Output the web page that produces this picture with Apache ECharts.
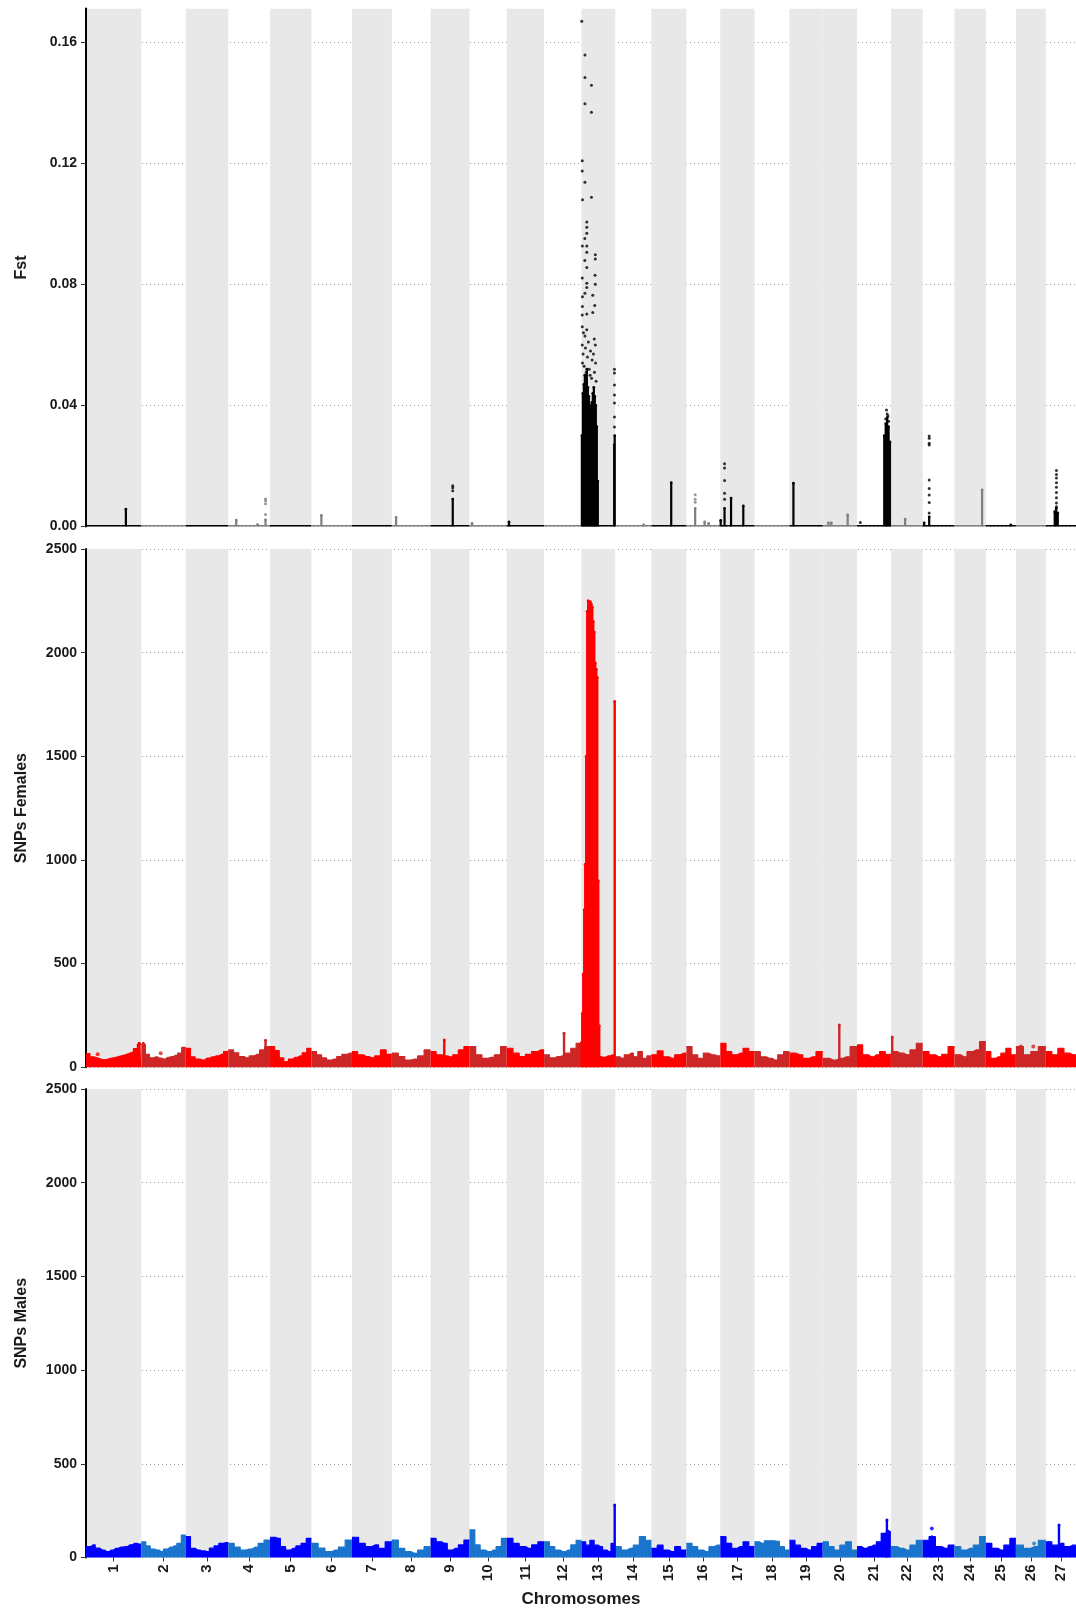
<!DOCTYPE html>
<html>
<head>
<meta charset="utf-8">
<script src="https://cdn.jsdelivr.net/npm/echarts@6/dist/echarts.min.js"></script>
<style>
html, body { margin: 0; padding: 0; background: #ffffff; }
#chart { width: 1076px; height: 1613px; }
</style>
</head>
<body>
<div id="chart"></div>
<script>
// Chromosome layout (lengths in Mb)
const chromosomes = ['1','2','3','4','5','6','7','8','9','10','11','12','13','14','15','16','17','18','19','20','21','22','23','24','25','26','27'];
const chromLengthMb = [41.6, 33.4, 32.0, 31.4, 31.1, 30.5, 30.0, 29.1, 29.3, 28.0, 28.1, 28.1, 25.4, 27.2, 26.3, 25.5, 25.7, 26.3, 25.0, 25.8, 25.5, 23.9, 23.9, 23.6, 22.6, 22.5, 22.7];
const shadedBand = [1,0,1,0,1,0,1,0,1,0,1,0,1,0,1,0,1,0,1,1,0,1,0,1,0,1,0];

// Axis ticks
const fstTicks = [0, 0.04, 0.08, 0.12, 0.16];
const snpTicks = [0, 500, 1000, 1500, 2000, 2500];

// Fst: dense stacks of SNPs [chromosome, position Mb, top Fst]
const fstColumns = [
  [1, 30.0, 0.0057],
  [4, 6.0, 0.0021], [4, 22.0, 0.0006], [4, 28.0, 0.0022],
  [6, 7.5, 0.0037],
  [8, 3.2, 0.0030],
  [9, 16.7, 0.0090],
  [10, 1.9, 0.0010],
  [11, 1.7, 0.0015],
  [13, 0.3, 0.030], [13, 1.05, 0.044], [13, 1.8, 0.047], [13, 2.55, 0.050], [13, 3.3, 0.045], [13, 4.05, 0.052],
  [13, 4.8, 0.046], [13, 5.55, 0.043], [13, 6.3, 0.040], [13, 7.05, 0.038], [13, 7.8, 0.041], [13, 8.55, 0.044],
  [13, 9.3, 0.046], [13, 10.05, 0.043], [13, 10.8, 0.040], [13, 11.55, 0.033], [13, 12.3, 0.015],
  [13, 24.6, 0.027], [13, 25.0, 0.030],
  [14, 21.4, 0.0005],
  [15, 14.9, 0.0145],
  [16, 6.6, 0.0060], [16, 13.7, 0.0015], [16, 16.7, 0.0010],
  [17, 0.3, 0.0020], [17, 3.2, 0.0060], [17, 8.1, 0.0094], [17, 17.3, 0.0068],
  [19, 3.0, 0.0143],
  [20, 4.3, 0.0012], [20, 6.5, 0.0012], [20, 18.8, 0.0038],
  [21, 20.5, 0.030], [21, 21.6, 0.034], [21, 22.7, 0.036], [21, 23.8, 0.033], [21, 24.8, 0.028],
  [22, 10.7, 0.0024],
  [23, 1.1, 0.0012], [23, 4.9, 0.0032],
  [24, 20.8, 0.0121],
  [25, 18.75, 0.0005],
  [27, 6.7, 0.0049], [27, 7.8, 0.0060], [27, 9.0, 0.0045]
];

// Fst: individual SNPs above the stacks [chromosome, position Mb, Fst]
const fstPoints = [
  [4, 28.0, 0.0040], [4, 28.0, 0.0075], [4, 28.0, 0.0085], [4, 28.0, 0.0091],
  [9, 16.7, 0.0118], [9, 16.7, 0.0128], [9, 16.7, 0.0135],
  [13, 0.2, 0.167], [13, 2.6, 0.1558], [13, 2.6, 0.1484], [13, 7.5, 0.1458], [13, 2.6, 0.1397], [13, 7.5, 0.1369],
  [13, 0.6, 0.1209], [13, 0.6, 0.1175], [13, 2.6, 0.1138], [13, 7.5, 0.1088], [13, 0.8, 0.108],
  [13, 4.0, 0.1006], [13, 4.0, 0.0989], [13, 4.0, 0.0969], [13, 2.5, 0.0952], [13, 0.7, 0.0927], [13, 4.0, 0.0927],
  [13, 4.0, 0.0906], [13, 10.4, 0.0898], [13, 10.4, 0.0884], [13, 2.5, 0.0879], [13, 4.0, 0.0856], [13, 10.2, 0.083],
  [13, 0.6, 0.0821], [13, 4.0, 0.0804], [13, 10.4, 0.0801], [13, 4.0, 0.079], [13, 2.6, 0.0771], [13, 0.7, 0.0759],
  [13, 8.5, 0.0764], [13, 10.0, 0.073], [13, 0.7, 0.0727], [13, 4.0, 0.0702], [13, 8.5, 0.0707], [13, 0.6, 0.0699],
  [13, 0.6, 0.066], [13, 1.5, 0.064], [13, 2.6, 0.063], [13, 4.0, 0.065], [13, 5.2, 0.061], [13, 0.6, 0.060],
  [13, 3.0, 0.059], [13, 6.8, 0.058], [13, 9.6, 0.062], [13, 10.4, 0.060], [13, 1.2, 0.057], [13, 4.5, 0.056],
  [13, 8.0, 0.055], [13, 0.8, 0.054], [13, 2.0, 0.053], [13, 5.8, 0.052], [13, 9.0, 0.057], [13, 10.6, 0.054],
  [13, 3.6, 0.051], [13, 6.5, 0.050], [13, 7.6, 0.049], [13, 9.8, 0.051], [13, 11.0, 0.048],
  [13, 24.8, 0.052], [13, 24.8, 0.0507], [13, 24.8, 0.0468], [13, 24.8, 0.0435], [13, 24.8, 0.0408], [13, 24.8, 0.0362], [13, 24.8, 0.0329],
  [16, 6.6, 0.0105], [16, 6.6, 0.0090], [16, 6.6, 0.0080],
  [17, 3.2, 0.0207], [17, 3.2, 0.0193], [17, 3.2, 0.0152], [17, 3.2, 0.0110], [17, 3.2, 0.0090],
  [21, 2.5, 0.0013], [21, 22.2, 0.0385], [21, 22.7, 0.0372], [21, 23.3, 0.0365], [21, 21.6, 0.0355], [21, 23.8, 0.0348],
  [23, 4.9, 0.0299], [23, 4.9, 0.0292], [23, 4.9, 0.0275], [23, 4.9, 0.0269], [23, 4.9, 0.0154], [23, 4.9, 0.0126],
  [23, 4.9, 0.0104], [23, 4.9, 0.0079], [23, 4.9, 0.0045],
  [27, 8.0, 0.0185], [27, 8.0, 0.0172], [27, 8.0, 0.0160], [27, 8.0, 0.0145], [27, 8.0, 0.0130], [27, 8.0, 0.0112],
  [27, 8.0, 0.0095], [27, 8.0, 0.0078], [27, 8.0, 0.0065]
];

// SNP counts per window, females (one list per chromosome)
const femaleDensity = [
  [66, 50, 45, 38, 36, 42, 46, 50, 55, 60, 68, 75, 90, 112],
  [110, 62, 45, 50, 44, 40, 48, 52, 58, 68, 96],
  [92, 50, 40, 35, 44, 50, 55, 62, 76],
  [84, 70, 52, 45, 55, 62, 84, 100],
  [100, 80, 45, 27, 40, 48, 55, 70, 92],
  [76, 60, 45, 35, 40, 52, 62, 68],
  [76, 60, 52, 45, 55, 84, 62],
  [68, 52, 35, 40, 55, 84],
  [76, 60, 55, 50, 60, 84, 100],
  [100, 60, 43, 48, 60, 100],
  [92, 68, 52, 62, 76, 84],
  [60, 45, 52, 55, 68, 92, 115],
  [60, 55, 50, 52, 48, 55, 60],
  [51, 43, 60, 68, 51, 76, 43, 55],
  [60, 79, 51, 43, 60, 68],
  [100, 60, 43, 68, 60, 55],
  [116, 76, 60, 68, 92, 76],
  [76, 51, 43, 35, 60, 76],
  [68, 60, 43, 51, 76],
  [43, 35, 43, 51, 100],
  [108, 60, 51, 60, 76, 63],
  [76, 68, 60, 84, 116],
  [76, 60, 51, 63, 100],
  [60, 51, 76, 84, 124],
  [76, 43, 51, 68, 92, 60],
  [100, 60, 76, 100],
  [76, 60, 92, 68, 60]
];
// Female stacks rising above the windows [chromosome, position Mb, top count]
const femaleColumns = [
  [1, 40.0, 116], [2, 1.5, 116], [4, 28.0, 130], [9, 10.3, 132], [12, 15.0, 164],
  [13, 0.05, 120], [13, 0.6, 260], [13, 1.35, 450], [13, 2.1, 760], [13, 2.85, 980], [13, 3.6, 1500],
  [13, 4.35, 2200], [13, 5.1, 2250], [13, 5.85, 2240], [13, 6.6, 2245], [13, 7.35, 2235], [13, 8.1, 2220],
  [13, 8.85, 2150], [13, 9.6, 2100], [13, 10.35, 1950], [13, 11.1, 1920], [13, 11.85, 1880], [13, 12.6, 900],
  [13, 13.35, 200], [13, 25.0, 1765],
  [20, 12.5, 204], [22, 1.0, 146]
];
const femalePoints = [[1, 8.8, 63], [2, 14.6, 68], [10, 20.4, 51], [26, 3.7, 100], [26, 13.1, 100]];

// SNP counts per window, males
const maleDensity = [
  [58, 67, 50, 40, 31, 40, 49, 55, 58, 67, 75, 71],
  [84, 62, 45, 40, 31, 45, 55, 62, 75, 120],
  [111, 49, 40, 35, 31, 50, 62, 75, 79],
  [75, 55, 40, 45, 55, 75, 93],
  [108, 102, 58, 40, 49, 62, 75, 102],
  [75, 50, 31, 40, 55, 93],
  [108, 75, 58, 67, 49, 84],
  [93, 49, 31, 22, 40, 58],
  [102, 84, 75, 40, 49, 67, 93],
  [147, 67, 40, 31, 40, 58, 102],
  [102, 75, 58, 49, 67, 84],
  [84, 58, 40, 31, 40, 67, 92],
  [84, 66, 92, 66, 58, 40, 31, 75],
  [58, 40, 49, 66, 111, 92],
  [49, 66, 40, 31, 58, 40],
  [75, 58, 40, 31, 58, 66],
  [111, 75, 49, 58, 84, 58],
  [84, 75, 89, 89, 86, 58, 40],
  [92, 66, 49, 40, 58, 75],
  [84, 58, 40, 66, 84, 40],
  [58, 49, 58, 66, 84, 129, 138],
  [58, 49, 40, 66, 92],
  [92, 111, 58, 49, 66],
  [58, 40, 49, 66, 111],
  [75, 49, 40, 66, 102],
  [66, 49, 58, 92],
  [84, 66, 75, 58, 66]
];
const maleColumns = [[13, 25.0, 280], [21, 21.5, 125], [21, 22.5, 200], [21, 23.5, 140], [23, 6.9, 111], [27, 9.9, 173]];
const malePoints = [[23, 6.9, 155], [26, 13.7, 75]];

// Genome coordinates
const chromStart = [];
let genomeLength = 0;
chromLengthMb.forEach(len => { chromStart.push(genomeLength); genomeLength += len; });
const chromCenter = chromStart.map((s, i) => s + chromLengthMb[i] / 2);
const gpos = (chr, pos) => chromStart[chr - 1] + pos;
const isOdd = chr => chr % 2 === 1;

const fstColors = ['#000000', '#7f7f7f'];
const femaleColors = ['#ff0000', '#cd2626'];
const maleColors = ['#0000ff', '#1874cd'];
const bandColor = '#e8e8e8';
const labelColor = '#1a1a1a';
const fontFamily = '"Liberation Sans", Arial, Helvetica, sans-serif';

const grids = [
  { left: 86, top: 8.5, width: 992.7, height: 518 },
  { left: 86, top: 549, width: 992.7, height: 518.3 },
  { left: 86, top: 1089, width: 992.7, height: 468.5 }
];

function xAxisFor(i) {
  const base = { type: 'value', gridIndex: i, min: 0, max: genomeLength, splitLine: { show: false }, axisLine: { show: false } };
  if (i < 2) return Object.assign(base, { show: false });
  return Object.assign(base, {
    name: 'Chromosomes', nameLocation: 'middle', nameGap: 33,
    nameTextStyle: { fontFamily, fontWeight: 'bold', fontSize: 17, color: labelColor },
    axisTick: { show: true, customValues: chromCenter, length: 4, lineStyle: { color: '#333', width: 1 } },
    axisLabel: {
      show: true, customValues: chromCenter, rotate: 90, margin: 7,
      fontFamily, fontWeight: 'bold', fontSize: 15, color: labelColor,
      formatter: v => {
        let best = 0;
        chromCenter.forEach((c, k) => { if (Math.abs(c - v) < Math.abs(chromCenter[best] - v)) best = k; });
        return chromosomes[best];
      }
    }
  });
}

function yAxisFor(i, name, max, interval, fmt) {
  return {
    type: 'value', gridIndex: i, min: 0, max, interval,
    name, nameLocation: 'middle', nameGap: 56,
    nameTextStyle: { fontFamily, fontWeight: 'bold', fontSize: 16, color: labelColor },
    axisLine: { show: true, lineStyle: { color: '#000', width: 2 } },
    axisTick: { show: true, length: 5, lineStyle: { color: '#333', width: 1 } },
    axisLabel: { fontFamily, fontWeight: 'bold', fontSize: 14, color: labelColor, margin: 9, formatter: fmt, showMaxLabel: max === 2500 },
    splitLine: { show: true, showMaxLine: max === 2500, lineStyle: { color: '#9a9a9a', width: 1, type: [1, 3] } }
  };
}

// Shaded chromosome bands behind each panel
function bandSeries(i) {
  const data = [];
  chromLengthMb.forEach((len, k) => { if (shadedBand[k]) data.push([chromStart[k], chromStart[k] + len]); });
  return {
    type: 'custom', xAxisIndex: i, yAxisIndex: i, silent: true, z: 0, clip: true,
    encode: { x: [0, 1] },
    renderItem: (params, api) => {
      const cs = params.coordSys;
      const a = api.coord([api.value(0), 0]);
      const b = api.coord([api.value(1), 0]);
      return { type: 'rect', shape: { x: a[0], y: cs.y, width: b[0] - a[0], height: cs.height }, style: { fill: bandColor } };
    },
    data
  };
}

// Vertical stacks of overlapping SNP markers
function columnSeries(i, rows, colors, widthPx) {
  return {
    type: 'custom', xAxisIndex: i, yAxisIndex: i, silent: true, z: 4, clip: true,
    encode: { x: 0, y: 1 },
    renderItem: (params, api) => {
      const base = api.coord([api.value(0), 0]);
      const tip = api.coord([api.value(0), api.value(1)]);
      const fill = colors[isOdd(api.value(2)) ? 0 : 1];
      return {
        type: 'group', children: [
          { type: 'rect', shape: { x: base[0] - widthPx / 2, y: tip[1], width: widthPx, height: base[1] - tip[1] }, style: { fill } },
          { type: 'circle', shape: { cx: base[0], cy: tip[1], r: widthPx / 2 + 0.3 }, style: { fill } }
        ]
      };
    },
    data: rows.map(r => [gpos(r[0], r[1]), r[2], r[0]])
  };
}

function pointSeries(i, rows, colors, size) {
  return {
    type: 'scatter', xAxisIndex: i, yAxisIndex: i, silent: true, z: 5,
    symbol: 'circle', symbolSize: size,
    itemStyle: { color: p => colors[isOdd(p.value[2]) ? 0 : 1] },
    data: rows.map(r => [gpos(r[0], r[1]), r[2], r[0]])
  };
}

// Fst zero line for every chromosome
function fstBaseline() {
  return {
    type: 'custom', xAxisIndex: 0, yAxisIndex: 0, silent: true, z: 3, clip: true,
    encode: { x: [0, 1] },
    renderItem: (params, api) => {
      const a = api.coord([api.value(0), 0]);
      const b = api.coord([api.value(1), 0]);
      return { type: 'line', shape: { x1: a[0], y1: a[1] - 0.5, x2: b[0], y2: b[1] - 0.5 }, style: { stroke: fstColors[isOdd(api.value(2)) ? 0 : 1], lineWidth: 1.8 } };
    },
    data: chromLengthMb.map((len, k) => [chromStart[k], chromStart[k] + len, k + 1])
  };
}

// Windowed SNP counts drawn as a filled step profile per chromosome
function densitySeries(i, densities, colors) {
  return densities.map((vals, k) => {
    const start = chromStart[k], len = chromLengthMb[k], n = vals.length;
    const pts = [[start, vals[0]]];
    vals.forEach((v, j) => pts.push([start + (j + 0.5) * len / n, v]));
    pts.push([start + len, vals[n - 1]]);
    const color = colors[isOdd(k + 1) ? 0 : 1];
    return {
      type: 'line', xAxisIndex: i, yAxisIndex: i, silent: true, z: 3,
      step: 'middle', symbol: 'none', data: pts,
      lineStyle: { color, width: 1.2 },
      areaStyle: { color, opacity: 1 }
    };
  });
}

const series = [
  bandSeries(0), bandSeries(1), bandSeries(2),
  fstBaseline(),
  columnSeries(0, fstColumns, fstColors, 2.2),
  pointSeries(0, fstPoints, fstColors, 3),
  ...densitySeries(1, femaleDensity, femaleColors),
  columnSeries(1, femaleColumns, femaleColors, 2.4),
  pointSeries(1, femalePoints, femaleColors, 4),
  ...densitySeries(2, maleDensity, maleColors),
  columnSeries(2, maleColumns, maleColors, 2.4),
  pointSeries(2, malePoints, maleColors, 4)
];

const chart = echarts.init(document.getElementById('chart'), null, { renderer: 'canvas' });
chart.setOption({
  animation: false,
  backgroundColor: '#ffffff',
  grid: grids,
  xAxis: [xAxisFor(0), xAxisFor(1), xAxisFor(2)],
  yAxis: [
    yAxisFor(0, 'Fst', 0.1712, fstTicks[1], v => v.toFixed(2)),
    yAxisFor(1, 'SNPs Females', snpTicks[snpTicks.length - 1], snpTicks[1], v => String(v)),
    yAxisFor(2, 'SNPs Males', snpTicks[snpTicks.length - 1], snpTicks[1], v => String(v))
  ],
  series
});
</script>
</body>
</html>
